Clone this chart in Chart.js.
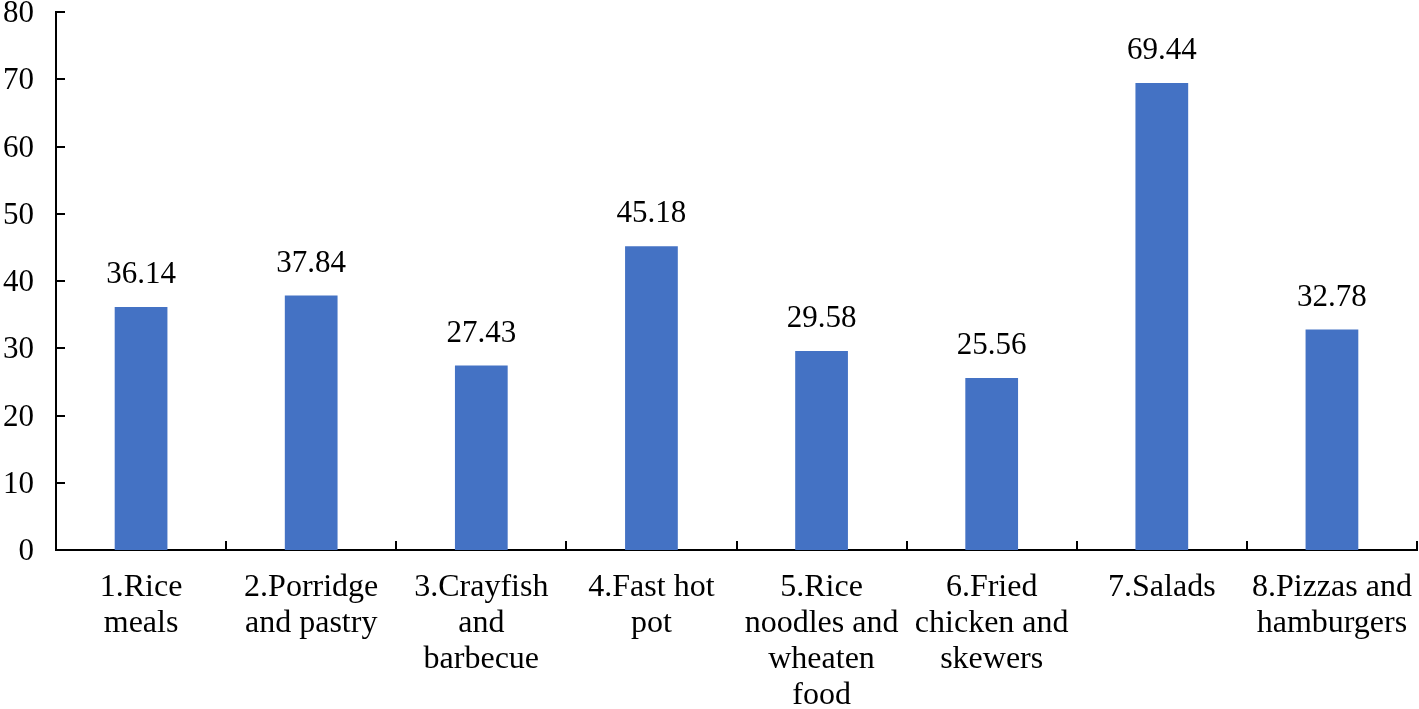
<!DOCTYPE html>
<html>
<head>
<meta charset="utf-8">
<script src="https://cdn.jsdelivr.net/npm/chart.js@4/dist/chart.umd.min.js"></script>
<style>
  html, body { margin: 0; padding: 0; background: #fff; }
  #wrap { width: 1419px; height: 709px; }
</style>
</head>
<body>
<div id="wrap"><canvas id="myChart" width="1419" height="709"></canvas></div>
<script>
// Categories (split into lines as in the figure)
const categories = [
    ['1.Rice', 'meals'],
    ['2.Porridge', 'and pastry'],
    ['3.Crayfish', 'and', 'barbecue'],
    ['4.Fast hot', 'pot'],
    ['5.Rice', 'noodles and', 'wheaten', 'food'],
    ['6.Fried', 'chicken and', 'skewers'],
    ['7.Salads'],
    ['8.Pizzas and', 'hamburgers']
];

// Series values
const values = [36.14, 37.84, 27.43, 45.18, 29.58, 25.56, 69.44, 32.78];

// Y axis range
const yMin = 0;
const yMax = 80;
const yStep = 10;

const FONT = "'Liberation Serif', 'Times New Roman', serif";

// Draws the inward tick marks on both axes
const innerTicks = {
    id: 'innerTicks',
    afterDraw(chart) {
        const ctx = chart.ctx;
        const x = chart.scales.x;
        const y = chart.scales.y;
        ctx.save();
        ctx.strokeStyle = '#000';
        ctx.lineWidth = 2;
        ctx.beginPath();
        y.ticks.forEach(t => {
            const py = Math.round(y.getPixelForValue(t.value));
            ctx.moveTo(x.left, py);
            ctx.lineTo(x.left + 9, py);
        });
        for (let i = 0; i <= categories.length; i++) {
            const px = Math.round(x.getPixelForValue(i - 0.5));
            ctx.moveTo(px, y.bottom);
            ctx.lineTo(px, y.bottom - 9);
        }
        ctx.stroke();
        ctx.restore();
    }
};

// Value labels above the bars
const valueLabels = {
    id: 'valueLabels',
    afterDatasetsDraw(chart) {
        const ctx = chart.ctx;
        const meta = chart.getDatasetMeta(0);
        ctx.save();
        ctx.fillStyle = '#000';
        ctx.font = '31px ' + FONT;
        ctx.textAlign = 'center';
        ctx.textBaseline = 'alphabetic';
        meta.data.forEach((bar, i) => {
            ctx.fillText(values[i].toFixed(2), bar.x, bar.y - 24);
        });
        ctx.restore();
    }
};

const chartConfig = {
    type: 'bar',
    data: {
        labels: categories,
        datasets: [{
            data: values,
            backgroundColor: '#4472C4',
            borderWidth: 0,
            categoryPercentage: 1,
            barPercentage: 0.31
        }]
    },
    options: {
        responsive: false,
        animation: false,
        layout: { padding: { top: 0, right: 2, left: 0, bottom: 0 } },
        plugins: {
            legend: { display: false },
            tooltip: { enabled: false }
        },
        scales: {
            x: {
                grid: { display: false, drawTicks: false },
                border: { display: true, color: '#000', width: 2 },
                ticks: {
                    color: '#000',
                    font: { family: FONT, size: 32, lineHeight: 1.125 },
                    padding: 20,
                    maxRotation: 0,
                    autoSkip: false
                },
                afterFit(scale) {
                    scale.height = 159;
                    scale.paddingLeft = 0;
                    scale.paddingRight = 0;
                }
            },
            y: {
                min: yMin,
                max: yMax,
                grid: { display: false, drawTicks: false },
                border: { display: true, color: '#000', width: 2 },
                ticks: {
                    stepSize: yStep,
                    color: '#000',
                    font: { family: FONT, size: 31 },
                    padding: 22,
                    labelOffset: 2
                },
                afterFit(scale) {
                    scale.width = 56;
                    scale.paddingTop = 12;
                    scale.paddingBottom = 0;
                }
            }
        }
    },
    plugins: [innerTicks, valueLabels]
};

new Chart(document.getElementById('myChart').getContext('2d'), chartConfig);
</script>
</body>
</html>
